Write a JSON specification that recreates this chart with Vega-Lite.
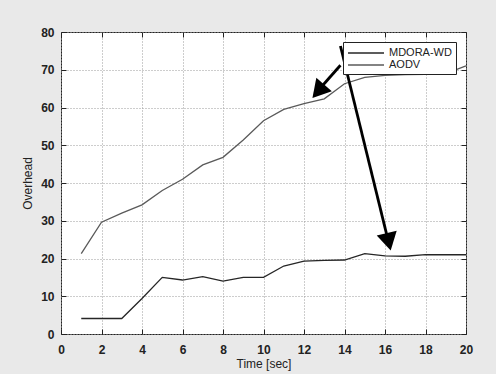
{
  "$schema": "https://vega.github.io/schema/vega-lite/v6.json",
  "width": 405,
  "height": 302,
  "autosize": {"type": "none"},
  "padding": {"left": 61, "top": 32, "right": 30, "bottom": 40},
  "background": "#e9e9e9",
  "config": {
    "view": {"fill": "white", "stroke": "#222", "strokeWidth": 1},
    "font": "Liberation Sans",
    "axis": {
      "grid": true,
      "gridColor": "#9a9a9a",
      "gridDash": [1, 2],
      "gridWidth": 1,
      "domain": false,
      "tickColor": "#222",
      "tickSize": -5,
      "labelFlush": false,
      "labelFontSize": 12,
      "labelFontWeight": "bold",
      "labelColor": "#222",
      "titleFontSize": 12,
      "titleFontWeight": "normal",
      "titleColor": "#222"
    }
  },
  "datasets": {
    "series": [
      {"t": 1, "series": "MDORA-WD", "v": 4.1},
      {"t": 2, "series": "MDORA-WD", "v": 4.1},
      {"t": 3, "series": "MDORA-WD", "v": 4.1},
      {"t": 4, "series": "MDORA-WD", "v": 9.4},
      {"t": 5, "series": "MDORA-WD", "v": 15.0},
      {"t": 6, "series": "MDORA-WD", "v": 14.3},
      {"t": 7, "series": "MDORA-WD", "v": 15.2},
      {"t": 8, "series": "MDORA-WD", "v": 14.0},
      {"t": 9, "series": "MDORA-WD", "v": 15.0},
      {"t": 10, "series": "MDORA-WD", "v": 15.0},
      {"t": 11, "series": "MDORA-WD", "v": 18.0},
      {"t": 12, "series": "MDORA-WD", "v": 19.3},
      {"t": 13, "series": "MDORA-WD", "v": 19.5},
      {"t": 14, "series": "MDORA-WD", "v": 19.6},
      {"t": 15, "series": "MDORA-WD", "v": 21.3},
      {"t": 16, "series": "MDORA-WD", "v": 20.7},
      {"t": 17, "series": "MDORA-WD", "v": 20.6},
      {"t": 18, "series": "MDORA-WD", "v": 21.0},
      {"t": 19, "series": "MDORA-WD", "v": 21.0},
      {"t": 20, "series": "MDORA-WD", "v": 21.0},
      {"t": 1, "series": "AODV", "v": 21.3},
      {"t": 2, "series": "AODV", "v": 29.6},
      {"t": 3, "series": "AODV", "v": 32.0},
      {"t": 4, "series": "AODV", "v": 34.2},
      {"t": 5, "series": "AODV", "v": 38.0},
      {"t": 6, "series": "AODV", "v": 41.0},
      {"t": 7, "series": "AODV", "v": 44.8},
      {"t": 8, "series": "AODV", "v": 46.8},
      {"t": 9, "series": "AODV", "v": 51.4},
      {"t": 10, "series": "AODV", "v": 56.5},
      {"t": 11, "series": "AODV", "v": 59.5},
      {"t": 12, "series": "AODV", "v": 61.0},
      {"t": 13, "series": "AODV", "v": 62.3},
      {"t": 14, "series": "AODV", "v": 66.3},
      {"t": 15, "series": "AODV", "v": 68.0},
      {"t": 16, "series": "AODV", "v": 68.5},
      {"t": 17, "series": "AODV", "v": 68.7},
      {"t": 18, "series": "AODV", "v": 68.8},
      {"t": 19, "series": "AODV", "v": 69.0},
      {"t": 20, "series": "AODV", "v": 71.0}
    ],
    "arrows": [
      {"x": 13.8, "y": 71.2, "x2": 12.7, "y2": 64.5, "hx": 12.8, "hy": 64.9, "angle": 221},
      {"x": 13.8, "y": 76.3, "x2": 16.1, "y2": 26.0, "hx": 16.15, "hy": 25.2, "angle": 167}
    ]
  },
  "resolve": {"axis": {"x": "independent", "y": "independent"}},
  "layer": [
    {
      "data": {"name": "series"},
      "mark": {"type": "line", "strokeWidth": 1.3},
      "encoding": {
        "x": {"field": "t", "type": "quantitative", "scale": {"domain": [0, 20], "nice": false},
              "axis": {"orient": "bottom", "values": [0,2,4,6,8,10,12,14,16,18,20], "title": "Time [sec]", "labelPadding": 15, "titlePadding": 3}},
        "y": {"field": "v", "type": "quantitative", "scale": {"domain": [0, 80], "nice": false},
              "axis": {"orient": "left", "values": [0,10,20,30,40,50,60,70,80], "title": "Overhead", "labelPadding": 12, "titlePadding": 6}},
        "color": {"field": "series", "type": "nominal",
                  "scale": {"domain": ["MDORA-WD", "AODV"], "range": ["#262626", "#5a5a5a"]},
                  "legend": {"title": null, "orient": "none", "legendX": 282, "legendY": 10,
                             "fillColor": "white", "strokeColor": "#222", "padding": 4,
                             "symbolType": "M-1,0H5", "symbolSize": 144, "symbolStrokeWidth": 1.3,
                             "labelFontSize": 11, "labelColor": "#222", "rowPadding": 0, "labelOffset": 28}}
      }
    },
    {
      "data": {"name": "arrows"},
      "mark": {"type": "rule", "strokeWidth": 2.8, "color": "black"},
      "encoding": {
        "x": {"field": "x", "type": "quantitative", "axis": null},
        "y": {"field": "y", "type": "quantitative", "axis": null},
        "x2": {"field": "x2"},
        "y2": {"field": "y2"}
      }
    },
    {
      "data": {"name": "arrows"},
      "mark": {"type": "point", "shape": "triangle", "filled": true, "color": "black", "opacity": 1, "size": 420},
      "encoding": {
        "x": {"field": "hx", "type": "quantitative", "axis": null},
        "y": {"field": "hy", "type": "quantitative", "axis": null},
        "angle": {"field": "angle", "type": "quantitative", "scale": null}
      }
    },
    {
      "data": {"name": "series"},
      "mark": {"type": "point", "opacity": 0},
      "encoding": {
        "x": {"field": "t", "type": "quantitative",
              "axis": {"orient": "top", "values": [0,2,4,6,8,10,12,14,16,18,20], "labels": false, "grid": false, "title": null}},
        "y": {"field": "v", "type": "quantitative",
              "axis": {"orient": "right", "values": [0,10,20,30,40,50,60,70,80], "labels": false, "grid": false, "title": null}}
      }
    }
  ]
}
